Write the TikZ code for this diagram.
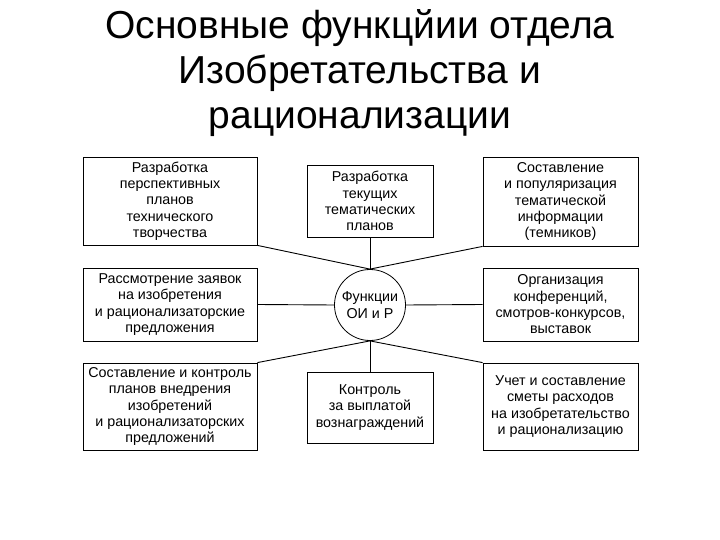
\documentclass[tikz,border=0pt]{standalone}
\usepackage{fontspec}
\setmainfont{Liberation Sans}
\begin{document}
\begin{tikzpicture}[x=1pt,y=-1pt,
 box/.style={draw,thick,align=center,inner sep=0pt,font=\fontsize{14.3}{16.3}\selectfont},
 conn/.style={line width=0.9pt}]
\useasboundingbox (0,0) rectangle (720,540);
\node[align=center,font=\fontsize{39}{45}\selectfont] (title) at (360,73) {Основные функцйии отдела\\Изобретательства и\\рационализации};
\node[box,minimum width=174pt,minimum height=88pt] (tl) at (170,201) {Разработка\\перспективных\\планов\\технического\\творчества};
\node[box,minimum width=126pt,minimum height=72pt] (tc) at (370,201) {Разработка\\текущих\\тематических\\планов};
\node[box,minimum width=155pt,minimum height=89pt] (tr) at (560.5,201.5) {Составление\\и популяризация\\тематической\\информации\\(темников)};
\node[box,minimum width=174pt,minimum height=73pt] (ml) at (170,304.5) {Рассмотрение заявок\\на изобретения\\и рационализаторские\\предложения};
\node[draw,thick,circle,minimum size=71pt,inner sep=0pt,align=center,font=\fontsize{14.3}{16.3}\selectfont] (c) at (370,305) {Функции\\ОИ и Р};
\node[box,minimum width=155pt,minimum height=73pt] (mr) at (560.5,304.5) {Организация\\конференций,\\смотров-конкурсов,\\выставок};
\node[box,minimum width=174pt,minimum height=87pt] (bl) at (170,406.5) {Составление и контроль\\планов внедрения\\изобретений\\и рационализаторских\\предложений};
\node[box,minimum width=126pt,minimum height=71pt] (bc) at (370,407.5) {Контроль\\за выплатой\\вознаграждений};
\node[box,minimum width=155pt,minimum height=87pt] (br) at (560.5,406.5) {Учет и составление\\сметы расходов\\на изобретательство\\и рационализацию};
\draw[conn] (tl.south east) -- (c.north);
\draw[conn] (tc.south) -- (c.north);
\draw[conn] (tr.south west) -- (c.north);
\draw[conn] (ml.east) -- (c.west);
\draw[conn] (mr.west) -- (c.east);
\draw[conn] (bl.north east) -- (c.south);
\draw[conn] (bc.north) -- (c.south);
\draw[conn] (br.north west) -- (c.south);
\end{tikzpicture}
\end{document}
